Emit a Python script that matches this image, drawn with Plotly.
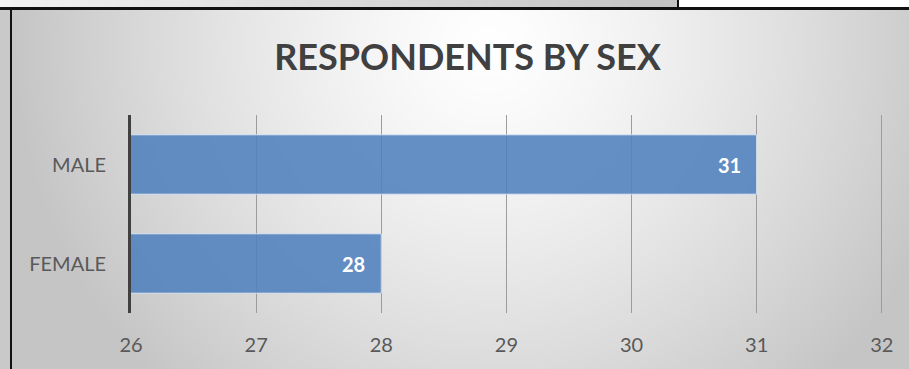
import base64
import struct
import zlib

import numpy as np
import plotly.graph_objects as go

# ---- data ----
categories = ["MALE", "FEMALE"]
respondents = [31, 28]
x_ticks = [26, 27, 28, 29, 30, 31, 32]
title_text = "RESPONDENTS BY SEX"

# ---- canvas geometry (pixels) ----
W, H = 909, 369
ML, MR, MT, MB = 131, 26, 115, 56
PW, PH = W - ML - MR, H - MT - MB


def px_x(px):
    return (px - ML) / PW


def px_y(py):
    return 1 - (py - MT) / PH


def png_data_uri(gray):
    """Encode a 2-D uint8 array as a grayscale PNG data URI."""
    h, w = gray.shape
    raw = b"".join(b"\x00" + gray[r].tobytes() for r in range(h))

    def chunk(tag, data):
        c = struct.pack(">I", len(data)) + tag + data
        return c + struct.pack(">I", zlib.crc32(tag + data) & 0xFFFFFFFF)

    png = b"\x89PNG\r\n\x1a\n"
    png += chunk(b"IHDR", struct.pack(">IIBBBBB", w, h, 8, 0, 0, 0, 0))
    png += chunk(b"IDAT", zlib.compress(raw, 9))
    png += chunk(b"IEND", b"")
    return "data:image/png;base64," + base64.b64encode(png).decode()


# radial background for the chart area (rendered small, stretched)
S = 3
gx0, gy0, gx1, gy1 = 12, 10, W, H
gw, gh = (gx1 - gx0) // S, (gy1 - gy0) // S
xs = gx0 + (np.arange(gw) + 0.5) * S
ys = gy0 + (np.arange(gh) + 0.5) * S
XX, YY = np.meshgrid(xs, ys)
r = np.sqrt(((XX - 490) / 480) ** 2 + ((YY - 45) / 470) ** 2)
r = np.clip(r, 0, 1)
bg = (255 - 58 * r ** 1.3).astype(np.uint8)
bg_uri = png_data_uri(bg)

# horizontal gradient strip along the top
strip = np.linspace(242, 196, 120)[None, :].repeat(2, axis=0).astype(np.uint8)
strip_uri = png_data_uri(strip)

fig = go.Figure()

fig.add_trace(
    go.Bar(
        y=categories,
        x=respondents,
        orientation="h",
        width=0.6,
        marker=dict(
            color="rgba(79,129,189,0.88)",
            line=dict(color="rgba(225,234,245,0.9)", width=1),
        ),
        hoverinfo="skip",
    )
)

# value labels just inside the end of each bar
annotations = [
    dict(
        x=v,
        y=c,
        xref="x",
        yref="y",
        text=str(v),
        showarrow=False,
        xanchor="right",
        yanchor="middle",
        xshift=-14,
        font=dict(family="Lato", size=20, color="white", weight="bold"),
    )
    for c, v in zip(categories, respondents)
]

images = [
    dict(
        source=bg_uri,
        xref="paper",
        yref="paper",
        x=px_x(gx0),
        y=px_y(gy0),
        sizex=(gx1 - gx0) / PW,
        sizey=(gy1 - gy0) / PH,
        sizing="stretch",
        xanchor="left",
        yanchor="top",
        layer="below",
    ),
    dict(
        source=strip_uri,
        xref="paper",
        yref="paper",
        x=px_x(0),
        y=px_y(0),
        sizex=677 / PW,
        sizey=8 / PH,
        sizing="stretch",
        xanchor="left",
        yanchor="top",
        layer="below",
    ),
]


def rect(x0, y0, x1, y1, color):
    return dict(
        type="rect",
        xref="paper",
        yref="paper",
        x0=px_x(x0),
        x1=px_x(x1),
        y0=px_y(y1),
        y1=px_y(y0),
        fillcolor=color,
        line=dict(width=0),
        layer="below",
    )


shapes = [
    rect(0, 10, 10, H, "#c9c9c9"),      # grey margin at the far left
    rect(0, 7, W, 10, "#111111"),       # rule under the top strip
    rect(10, 7, 12, H, "#111111"),      # left frame rule
    rect(677, 0, 679, 8, "#111111"),    # divider in the top strip
]

fig.update_layout(
    width=W,
    height=H,
    margin=dict(l=ML, r=MR, t=MT, b=MB, pad=0),
    paper_bgcolor="white",
    plot_bgcolor="rgba(0,0,0,0)",
    showlegend=False,
    title=dict(
        text=title_text,
        x=467.5 / W,
        xanchor="center",
        y=1 - 57 / H,
        yanchor="middle",
        xref="container",
        yref="container",
        font=dict(family="Lato", size=36, color="#404040", weight="bold"),
    ),
    xaxis=dict(
        # a hair past 32 so the last grid line is still drawn
        range=[x_ticks[0], x_ticks[-1] + 0.01],
        tickvals=x_ticks,
        showgrid=True,
        gridcolor="#9c9c9c",
        gridwidth=1,
        zeroline=False,
        showline=False,
        ticks="",
        ticklabelstandoff=18,
        tickfont=dict(family="Lato", size=20, color="#595959"),
        fixedrange=True,
    ),
    yaxis=dict(
        autorange="reversed",
        showgrid=False,
        zeroline=False,
        showline=True,
        linecolor="#404040",
        linewidth=3,
        ticks="",
        ticklabelstandoff=18,
        tickfont=dict(family="Lato", size=20, color="#595959"),
        fixedrange=True,
    ),
    annotations=annotations,
    images=images,
    shapes=shapes,
)

fig.write_html("out.html")
